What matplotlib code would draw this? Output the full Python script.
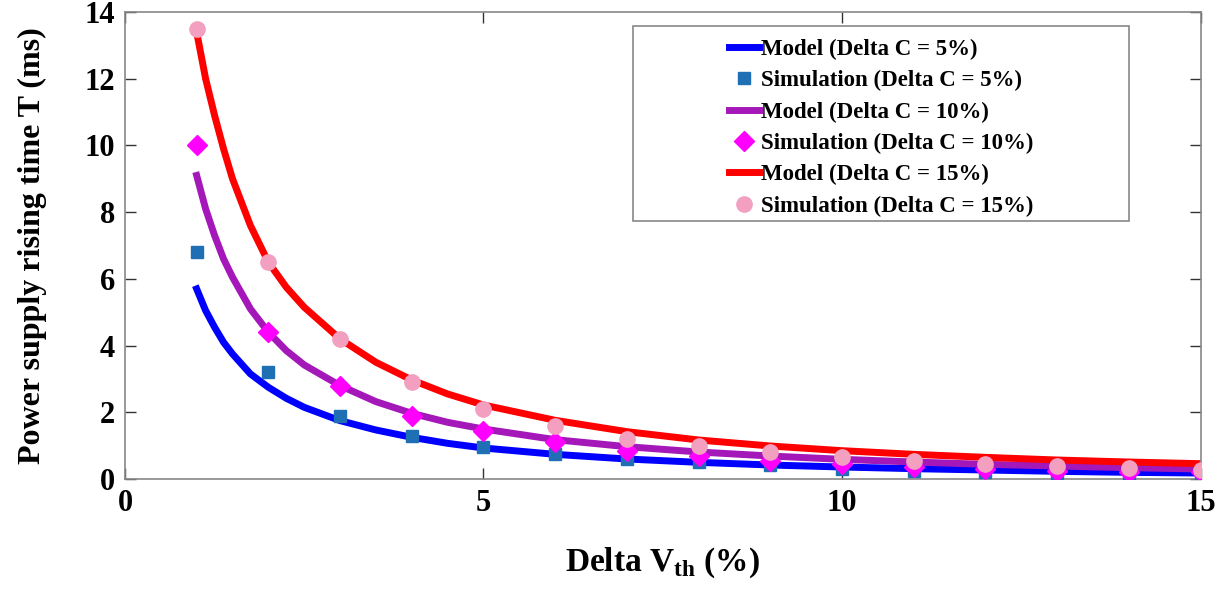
import numpy as np
import matplotlib.pyplot as plt
from matplotlib.patches import Rectangle

plt.rcParams['font.family'] = ['Liberation Serif', 'DejaVu Serif']
plt.rcParams['font.weight'] = 'bold'
plt.rcParams['axes.labelweight'] = 'bold'
plt.rcParams['mathtext.fontset'] = 'custom'
plt.rcParams['mathtext.rm'] = 'Liberation Serif:bold'
plt.rcParams['mathtext.bf'] = 'Liberation Serif:bold'

# model curves
x_model = [1, 1.125, 1.25, 1.375, 1.5, 1.75, 2, 2.25, 2.5, 3, 3.5, 4, 4.5, 5, 6, 7, 8, 9,
           10, 11, 12, 13, 14, 15]
model_5 = [5.7, 5.05, 4.55, 4.1, 3.75, 3.15, 2.75, 2.42, 2.15, 1.75, 1.47, 1.25, 1.07, 0.93,
           0.74, 0.6, 0.5, 0.42, 0.36, 0.31, 0.27, 0.23, 0.2, 0.18]
model_10 = [9.1, 8.1, 7.3, 6.6, 6.05, 5.1, 4.4, 3.85, 3.42, 2.8, 2.32, 1.97, 1.7, 1.5,
            1.18, 0.97, 0.81, 0.69, 0.59, 0.51, 0.44, 0.39, 0.34, 0.3]
model_15 = [13.4, 12.0, 10.9, 9.9, 9.0, 7.6, 6.5, 5.75, 5.15, 4.2, 3.5, 2.97, 2.55, 2.22,
            1.76, 1.42, 1.17, 0.99, 0.85, 0.74, 0.65, 0.57, 0.51, 0.46]

# simulation points
x_sim = np.arange(1, 16)
sim_5 = [6.8, 3.2, 1.9, 1.3, 0.95, 0.75, 0.6, 0.5, 0.42, 0.3, 0.25, 0.2, 0.18, 0.15, 0.12]
sim_10 = [10.0, 4.4, 2.8, 1.9, 1.45, 1.1, 0.85, 0.7, 0.55, 0.45, 0.35, 0.3, 0.25, 0.2, 0.2]
sim_15 = [13.5, 6.5, 4.2, 2.9, 2.1, 1.6, 1.2, 1.0, 0.8, 0.65, 0.55, 0.45, 0.38, 0.32, 0.27]

fig = plt.figure(figsize=(12.25, 6.03), dpi=100)
ax = fig.add_axes([0.102, 0.2056, 0.878, 0.7745])

lw = 5
ax.plot(x_model, model_5, color='#0000ff', lw=lw, label='Model (Delta C = 5%)', zorder=2)
ax.plot(x_sim, sim_5, 's', color='#1f6fb5', ms=8, label='Simulation (Delta C = 5%)', zorder=3)
ax.plot(x_model, model_10, color='#a417b8', lw=lw, label='Model (Delta C = 10%)', zorder=2)
ax.plot(x_sim, sim_10, 'D', color='#ff00ff', ms=10, label='Simulation (Delta C = 10%)', zorder=3)
ax.plot(x_model, model_15, color='#ff0000', lw=lw, label='Model (Delta C = 15%)', zorder=2)
ax.plot(x_sim, sim_15, 'o', color='#f29fc0', ms=11, label='Simulation (Delta C = 15%)', zorder=3)

ax.set_xlim(0, 15)
ax.set_ylim(0, 14)
ax.set_xticks([0, 5, 10, 15])
ax.set_yticks(np.arange(0, 15, 2))
ax.tick_params(direction='in', length=8, width=1, labelsize=22, pad=7,
               top=True, right=True, color='#333333')
for s in ax.spines.values():
    s.set_color('#888888')
    s.set_linewidth(1.2)

ax.set_ylabel('Power supply rising time T (ms)', fontsize=23, fontweight='bold', labelpad=27)
ax.set_xlabel(r'Delta V$_{\mathbf{th}}$ (%)', fontsize=24, fontweight='bold', labelpad=20)

# legend frame drawn separately (wide left margin, like the original)
ax.add_patch(Rectangle((0.4726, 0.553), 0.4606, 0.418, transform=ax.transAxes,
                       fill=True, facecolor='white', edgecolor='#888888', lw=1.2, zorder=4))
leg = ax.legend(loc='upper left', bbox_to_anchor=(0.553, 0.963), frameon=False,
                prop={'size': 16.5, 'weight': 'bold'}, handlelength=1.3, handletextpad=0.1,
                labelspacing=0.45, borderaxespad=0)
leg.set_zorder(5)

fig.savefig('out.png', dpi=100)
